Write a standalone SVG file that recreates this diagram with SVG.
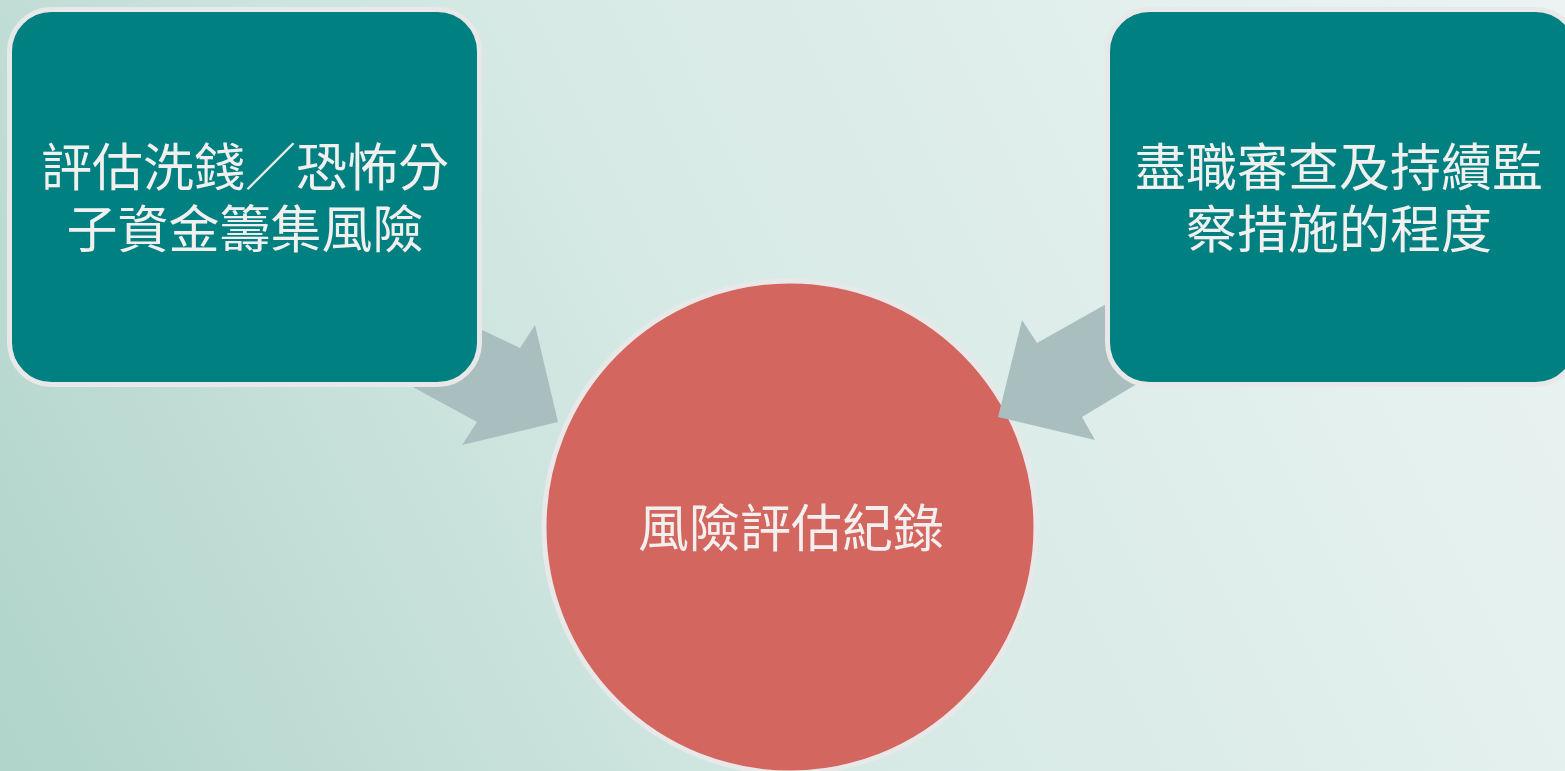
<svg xmlns="http://www.w3.org/2000/svg" width="1565" height="771" viewBox="0 0 1565 771">
<defs>
<linearGradient id="bg" x1="0" y1="771" x2="1565" y2="0" gradientUnits="userSpaceOnUse">
<stop offset="0" stop-color="#b0d4ca"/>
<stop offset="0.45" stop-color="#d6e9e5"/>
<stop offset="1" stop-color="#ebf4f3"/>
</linearGradient>
<style>
.box{fill:#008080;stroke:#e8e8e8;stroke-width:5}
.circ{fill:#d3665f;stroke:#e8e8e8;stroke-width:5}
.arr{fill:#a9bfbf}
.t{font-family:"Noto Sans CJK TC","Noto Sans CJK SC",sans-serif;font-size:51px;fill:#f2efef;text-anchor:middle;dominant-baseline:central}
</style>
</defs>
<rect width="1565" height="771" fill="url(#bg)"/>
<g id="node-center">
<circle class="circ" cx="790" cy="527" r="246"/>
<text class="t" x="791" y="525">風險評估紀錄</text>
</g>
<g id="connectors">
<polygon class="arr" points="440,310 520,348 535,325 558,422 462,445 477,422 400,380"/>
<polygon class="arr" points="1140,285 1037,343 1022,320 998,417 1095,440 1082,417 1160,370"/>
</g>
<g id="node-left">
<rect class="box" x="9.5" y="9.5" width="470" height="375" rx="42"/>
<text class="t" x="245" y="164">評估洗錢／恐怖分</text>
<text class="t" x="245" y="226">子資金籌集風險</text>
</g>
<g id="node-right">
<rect class="box" x="1107.5" y="9.5" width="470" height="375" rx="42"/>
<text class="t" x="1339" y="164">盡職審查及持續監</text>
<text class="t" x="1339" y="226">察措施的程度</text>
</g>
</svg>
